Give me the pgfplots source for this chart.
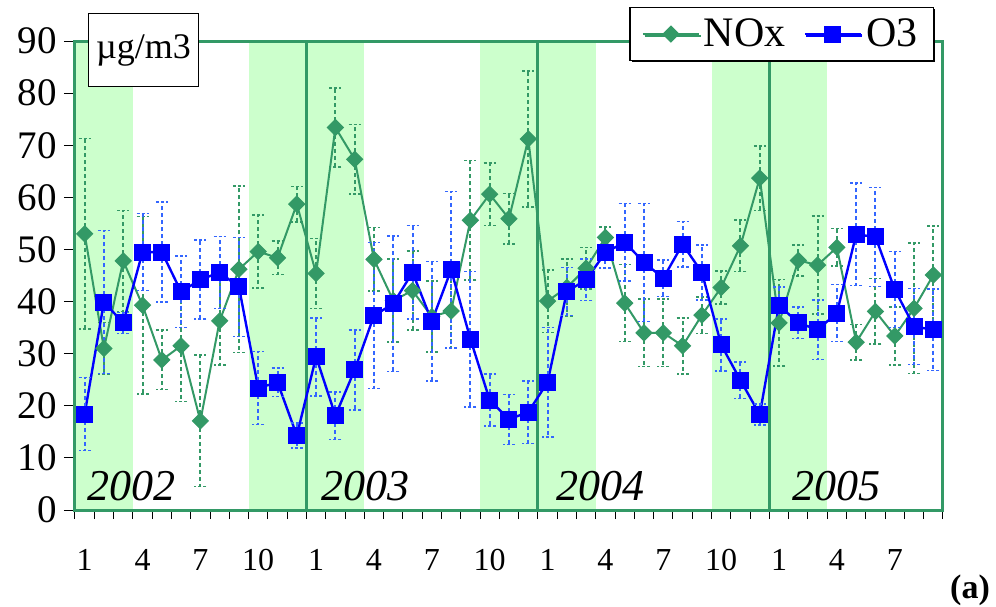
\documentclass[border=0pt]{standalone}
\usepackage{pgfplots}
\pgfplotsset{compat=1.18}
\usepackage{pgfplotstable}
\usepackage{fontspec}
\setmainfont{Liberation Serif}
\usetikzlibrary{shadows}
\definecolor{frameg}{RGB}{51,153,102}
\definecolor{noxc}{RGB}{51,153,102}
\definecolor{shadeg}{RGB}{204,255,204}
\definecolor{errblue}{RGB}{51,102,255}

\pgfplotstableread{
x y e
1 53.0 18.3
2 31.0 5.0
3 47.8 9.7
4 39.3 17.0
5 28.8 5.7
6 31.5 10.7
7 17.1 12.6
8 36.3 8.5
9 46.2 16.0
10 49.6 7.0
11 48.4 3.2
12 58.7 3.4
13 45.4 6.7
14 73.4 7.6
15 67.3 6.7
16 48.1 6.1
17 40.2 8.0
18 42.1 7.6
19 37.1 6.8
20 38.2 7.0
21 55.6 11.5
22 60.6 6.0
23 55.9 4.8
24 71.2 13.0
25 40.1 6.0
26 42.7 5.5
27 46.4 4.0
28 52.3 2.0
29 39.7 7.4
30 34.0 6.5
31 34.0 6.5
32 31.5 5.4
33 37.4 3.5
34 42.7 3.2
35 50.7 4.9
36 63.7 6.2
37 35.9 8.3
38 47.9 3.0
39 47.0 9.4
40 50.4 3.6
41 32.2 3.4
42 38.1 6.3
43 33.4 5.6
44 38.7 12.5
45 45.1 9.4
}\noxdata

\pgfplotstableread{
x y e
1 18.4 7.0
2 39.9 13.7
3 35.9 2.0
4 49.5 7.4
5 49.5 9.6
6 41.9 6.9
7 44.2 7.6
8 45.6 6.9
9 42.8 9.5
10 23.4 7.0
11 24.5 2.7
12 14.3 2.4
13 29.4 7.5
14 18.1 4.6
15 26.9 7.7
16 37.3 14.0
17 39.6 13.0
18 45.6 9.0
19 36.2 11.5
20 46.1 15.0
21 32.8 13.0
22 21.1 5.0
23 17.4 4.8
24 18.8 6.0
25 24.5 10.5
26 41.9 4.6
27 44.2 4.0
28 49.4 3.0
29 51.4 7.4
30 47.5 11.3
31 44.5 3.5
32 51.0 4.4
33 45.6 5.3
34 31.7 5.0
35 24.9 3.5
36 18.3 2.0
37 39.3 3.5
38 35.9 3.0
39 34.6 5.7
40 37.8 5.5
41 52.9 9.8
42 52.4 9.5
43 42.3 7.3
44 35.2 7.3
45 34.6 7.8
}\othreedata

\begin{document}
\begin{tikzpicture}
\useasboundingbox (0,0) rectangle (498pt,303pt);
\begin{axis}[
  name=ax,
  at={(37.5pt,48pt)}, anchor=south west,
  scale only axis, width=434pt, height=234.5pt,
  xmin=0.5, xmax=45.5, ymin=0, ymax=90,
  axis on top,
  axis line style={draw=frameg, line width=1.5pt},
  ytick={0,10,...,90},
  xtick={1,4,7,10,13,16,19,22,25,28,31,34,37,40,43},
  xticklabels={1,4,7,10,1,4,7,10,1,4,7,10,1,4,7},
  minor xtick={0.5,1.5,...,45.5},
  tick pos=left,
  tick align=outside,
  major tick length=5.5pt,
  minor tick length=4.5pt,
  tick style={black, line width=0.5pt},
  every major x tick/.append style={draw=none},
  /pgf/number format/assume math mode=true,
  yticklabel style={font=\fontsize{19.5}{22}\selectfont},
  xticklabel style={font=\fontsize{16}{19}\selectfont, yshift=-10.5pt},
  legend columns=2,
  legend style={at={(rel axis cs:0.9896,1.0725)}, anchor=north east,
    draw=black, line width=0.6pt, fill=white,
    drop shadow={shadow xshift=0.8pt, shadow yshift=-0.8pt, fill=black, opacity=1},
    font=\fontsize{21}{24}\selectfont, inner xsep=6pt, inner ysep=3.5pt,
    /tikz/every even column/.append style={column sep=7pt}},
  legend image code/.code={\draw[mark repeat=2, mark phase=2, #1] plot coordinates {(0pt,0pt) (14pt,0pt) (28pt,0pt)};},
]
% seasonal shading
\fill[shadeg] (axis cs:0.5,0) rectangle (axis cs:3.5,90);
\fill[shadeg] (axis cs:9.5,0) rectangle (axis cs:15.5,90);
\fill[shadeg] (axis cs:21.5,0) rectangle (axis cs:27.5,90);
\fill[shadeg] (axis cs:33.5,0) rectangle (axis cs:39.5,90);
% year separators
\draw[frameg, line width=1.5pt] (axis cs:12.5,0) -- (axis cs:12.5,90);
\draw[frameg, line width=1.5pt] (axis cs:24.5,0) -- (axis cs:24.5,90);
\draw[frameg, line width=1.5pt] (axis cs:36.5,0) -- (axis cs:36.5,90);
% year labels
\node[anchor=base, font=\itshape\fontsize{22}{26}\selectfont] at (axis cs:3.45,1.9) {2002};
\node[anchor=base, font=\itshape\fontsize{22}{26}\selectfont] at (axis cs:15.55,1.9) {2003};
\node[anchor=base, font=\itshape\fontsize{22}{26}\selectfont] at (axis cs:27.75,1.9) {2004};
\node[anchor=base, font=\itshape\fontsize{22}{26}\selectfont] at (axis cs:40.0,1.9) {2005};

\addplot[color=noxc, line width=1pt, mark=square*, mark size=2.83pt,
  mark options={rotate=45, fill=noxc, draw=noxc, line width=0.5pt, solid},
  error bars/.cd, y dir=both, y explicit,
  error bar style={noxc, line width=1pt, dash pattern=on 2pt off 1.5pt},
  error mark options={noxc, rotate=90, mark size=3pt, line width=0.8pt, dash pattern=on 1.5pt off 1pt}]
  table[x=x, y=y, y error=e] {\noxdata};
\addlegendentry{NOx}

\addplot[color=blue, line width=1.2pt, mark=square*, mark size=4pt,
  mark options={fill=blue, draw=blue, line width=0.5pt, solid},
  error bars/.cd, y dir=both, y explicit,
  error bar style={errblue, line width=1pt, dash pattern=on 2pt off 1.5pt},
  error mark options={errblue, rotate=90, mark size=3pt, line width=0.8pt, dash pattern=on 1.5pt off 1pt}]
  table[x=x, y=y, y error=e] {\othreedata};
\addlegendentry{O3}
\end{axis}
\node[draw=black, line width=0.5pt, fill=white, anchor=north west,
  minimum width=55pt, minimum height=36.5pt, inner sep=0pt,
  font=\fontsize{18}{21}\selectfont] at ([xshift=6.5pt, yshift=14pt]ax.north west) {µg/m3};
\node[font=\bfseries\fontsize{17}{20}\selectfont] at (485pt,8pt) {(a)};
\end{tikzpicture}
\end{document}
